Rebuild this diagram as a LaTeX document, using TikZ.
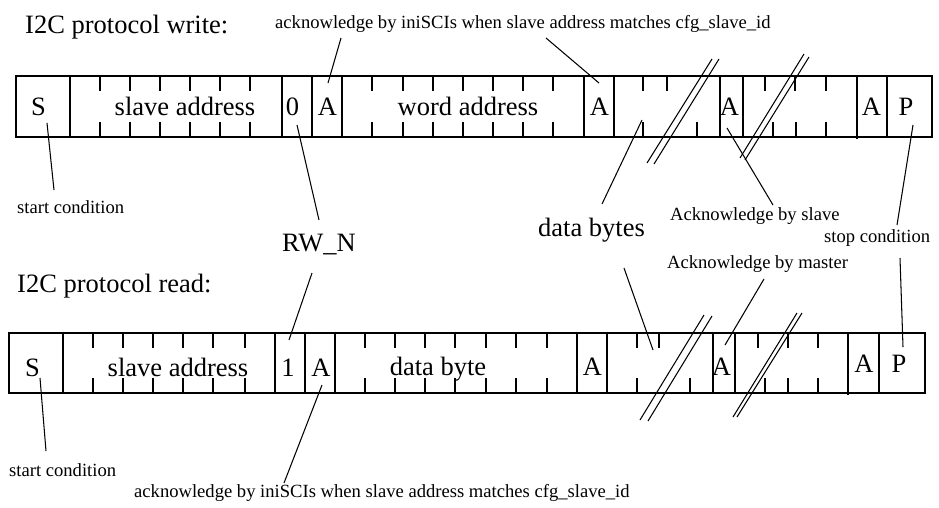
\documentclass[tikz,border=0pt]{standalone}
\usepackage{fontspec}
\setmainfont{Liberation Serif}
\begin{document}
\begin{tikzpicture}[x=1pt,y=-1pt,
  ln/.style={line width=1.05pt, line cap=butt},
  big/.style={font=\fontsize{26.5}{30}\selectfont, inner sep=0pt},
  small/.style={font=\fontsize{18.6}{22}\selectfont, inner sep=0pt}]
\useasboundingbox (0,0) rectangle (939,507);

% ---------------- write frame ----------------
\draw[ln] (16,76) rectangle (932,137);
\foreach \x in {70,282,312,342,584,614,720,743,887}
  \draw[ln] (\x,76) -- (\x,137);
\draw[ln] (857,76) -- (857,139);
\foreach \x in {100,130,160,190,220,250,372,403,433,463,493,523,553,643,667,765,795,826}
  \draw[ln] (\x,76) -- (\x,91);
\foreach \x in {100,130,160,190,220,250,372,403,433,463,493,523,553,643,697,773,796,826}
  \draw[ln] (\x,137) -- (\x,122);
% break marks
\draw[ln] (712,59) -- (647,163);
\draw[ln] (719,59) -- (654,164);
\draw[ln] (804,54) -- (740,158);
\draw[ln] (809,57) -- (745,160);
% field texts
\node[big,anchor=base] (ws) at (38.5,115) {S};
\node[big,anchor=base] (wsa) at (185,115) {slave address};
\node[big,anchor=base] (w0) at (292.5,115) {0};
\node[big,anchor=base] (wa1) at (327.5,115) {A};
\node[big,anchor=base] (wwa) at (468,115) {word address};
\node[big,anchor=base] (wa2) at (599.5,115) {A};
\node[big,anchor=base] (wa3) at (729.5,115) {A};
\node[big,anchor=base] (wa4) at (871.5,115) {A};
\node[big,anchor=base] (wp) at (906,115) {P};

% ---------------- read frame ----------------
\draw[ln] (9,333) rectangle (925,393);
\foreach \x in {63,275,305,335,577,607,713,735,879}
  \draw[ln] (\x,333) -- (\x,393);
\draw[ln] (848,333) -- (848,395);
\foreach \x in {93,123,153,183,213,245,365,395,425,455,486,516,547,637,659,758,788,818}
  \draw[ln] (\x,333) -- (\x,348);
\foreach \x in {93,123,153,183,213,245,365,395,425,455,486,516,547,637,690,765,788,818}
  \draw[ln] (\x,393) -- (\x,378);
\draw[ln] (704,315) -- (640,420);
\draw[ln] (712,316) -- (648,421);
\draw[ln] (797,313) -- (733,417);
\draw[ln] (802,313) -- (737,417);
\node[big,anchor=base] (rs) at (32.5,376) {S};
\node[big,anchor=base] (rsa) at (178,376) {slave address};
\node[big,anchor=base] (r1) at (288,376) {1};
\node[big,anchor=base] (ra1) at (321,376) {A};
\node[big,anchor=base] (rdb) at (438,375) {data byte};
\node[big,anchor=base] (ra2) at (592.5,375) {A};
\node[big,anchor=base] (ra3) at (721.5,375) {A};
\node[big,anchor=base] (ra4) at (864,372) {A};
\node[big,anchor=base] (rp) at (899,372) {P};

% ---------------- labels ----------------
\node[big,anchor=base west] (tw) at (25,33) {I2C protocol write:};
\node[small,anchor=base west] (ackw) at (275,28) {acknowledge by iniSCIs when slave address matches cfg\_slave\_id};
\node[small,anchor=base west] (sc1) at (17,213) {start condition};
\node[big,anchor=base west] (rwn) at (282,251) {RW\_N};
\node[big,anchor=base west] (tr) at (17,292) {I2C protocol read:};
\node[big,anchor=base west] (db) at (538,236) {data bytes};
\node[small,anchor=base west] (aks) at (670,220) {Acknowledge by slave};
\node[small,anchor=base west] (stp) at (824,242) {stop condition};
\node[small,anchor=base west] (akm) at (667,268) {Acknowledge by master};
\node[small,anchor=base west] (sc2) at (9,476) {start condition};
\node[small,anchor=base west] (ackr) at (134,497) {acknowledge by iniSCIs when slave address matches cfg\_slave\_id};

% ---------------- leader lines ----------------
\coordinate (l1a) at (341,38);  \coordinate (l1b) at (328,83);
\coordinate (l2a) at (546,38);  \coordinate (l2b) at (599,83);
\coordinate (l3a) at (47,123);  \coordinate (l3b) at (54,190);
\coordinate (l4a) at (297,125); \coordinate (l4b) at (319,220);
\coordinate (l5a) at (312,273); \coordinate (l5b) at (289,340);
\coordinate (l6a) at (642,120); \coordinate (l6b) at (602,204);
\coordinate (l7a) at (727,128); \coordinate (l7b) at (773,205);
\coordinate (l8a) at (913,125); \coordinate (l8b) at (897,225);
\coordinate (l9a) at (624,268); \coordinate (l9b) at (653,350);
\coordinate (l10a) at (764,279); \coordinate (l10b) at (725,345);
\coordinate (l11a) at (900,258); \coordinate (l11b) at (903,347);
\coordinate (l12a) at (40,378); \coordinate (l12b) at (46,451);
\coordinate (l13a) at (322,385); \coordinate (l13b) at (284,483);
\foreach \i in {1,...,13}
  \draw[ln] (l\i a) -- (l\i b);
\end{tikzpicture}
\end{document}
